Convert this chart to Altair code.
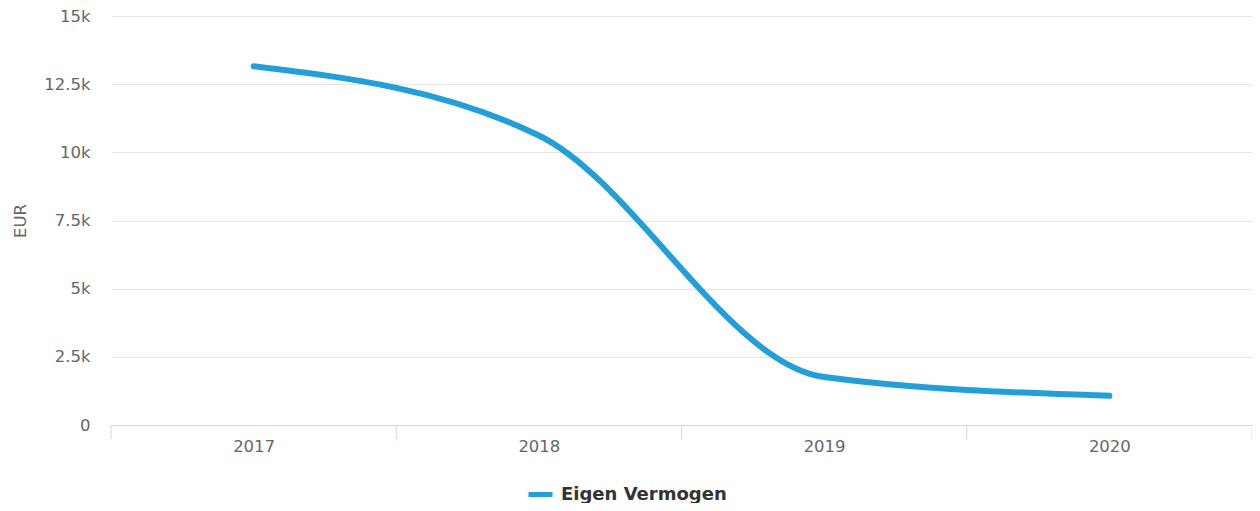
import altair as alt
import pandas as pd

years = [2017, 2018, 2019, 2020]
values = [13160, 10620, 1760, 1070]
series = ["Eigen Vermogen"] * 4
tick_edges = [2016.5, 2017.5, 2018.5, 2019.5, 2020.5]
y_ticks = [0, 2500, 5000, 7500, 10000, 12500, 15000]

df = pd.DataFrame({"year": years, "value": values, "series": series})
ticks_df = pd.DataFrame({"edge": tick_edges})

W, H = 1141, 409
FONT = "DejaVu Sans"

xscale = alt.Scale(domain=[2016.5, 2020.5], nice=False, zero=False)

line = alt.Chart(df).mark_line(
    interpolate="monotone", strokeWidth=6, strokeCap="round"
).encode(
    x=alt.X("year:Q", scale=xscale,
            axis=alt.Axis(values=years, format="d", title=None, ticks=False,
                          grid=False, domainColor="#ccd6eb", domainWidth=1,
                          labelColor="#666666", labelFontSize=16.5,
                          labelFont=FONT, labelPadding=13)),
    y=alt.Y("value:Q", scale=alt.Scale(domain=[0, 15000], nice=False),
            axis=alt.Axis(values=y_ticks, title="EUR", domain=False, ticks=False,
                          gridColor="#e6e6e6", gridWidth=1,
                          labelColor="#666666", labelFontSize=16.5, labelFont=FONT,
                          labelPadding=21,
                          labelExpr="datum.value == 0 ? '0' : format(datum.value/1000, '~g') + 'k'",
                          titleColor="#666666", titleFontSize=16.5, titleFont=FONT,
                          titleFontWeight="normal", titleX=-91, titleY=H / 2,
                          titleAngle=270, titleBaseline="middle", titleAlign="center")),
    color=alt.Color("series:N", scale=alt.Scale(range=["#229fd8"]),
                    legend=alt.Legend(title=None, orient="none", legendX=415,
                                      legendY=464, symbolType="stroke",
                                      symbolSize=576, symbolStrokeWidth=5,
                                      labelFont=FONT, labelFontSize=18,
                                      labelFontWeight="bold", labelColor="#333333",
                                      labelOffset=6, labelLimit=400)),
)

tickmarks = alt.Chart(ticks_df).mark_rule(color="#ccd6eb", strokeWidth=1).encode(
    x=alt.X("edge:Q", scale=xscale),
    y=alt.value(H),
    y2=alt.value(H + 14),
)

chart = alt.layer(line, tickmarks).properties(
    width=W, height=H,
    autosize=alt.AutoSizeParams(type="none"),
    padding={"left": 103, "top": 8, "right": 0, "bottom": 78},
).configure_view(stroke=None)

chart.save("out.html", embed_options={"renderer": "svg", "actions": False})
